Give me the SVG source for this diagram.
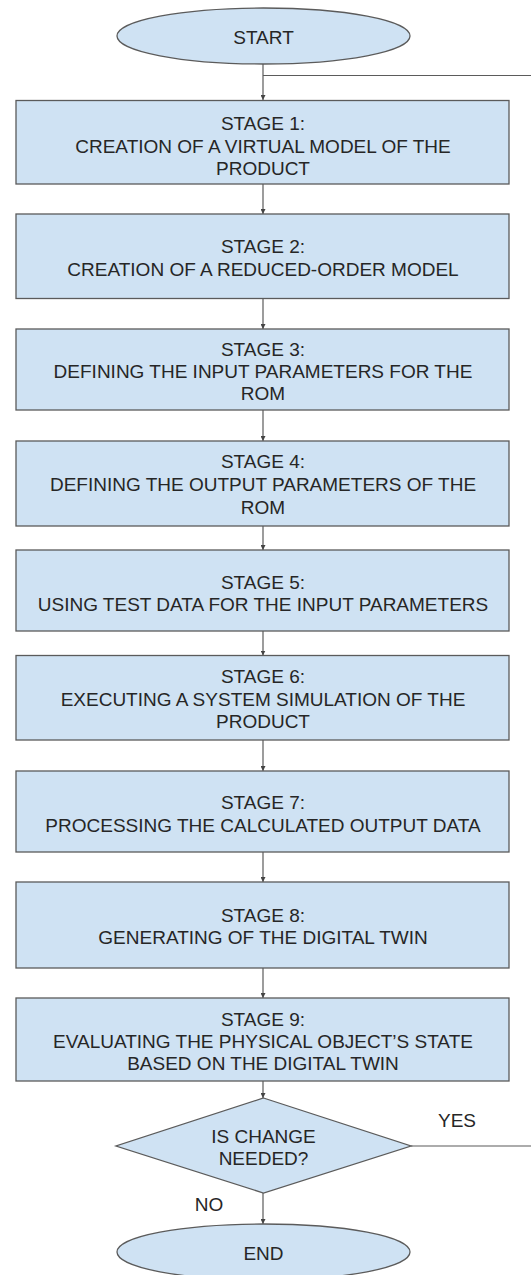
<svg xmlns="http://www.w3.org/2000/svg" width="531" height="1275" viewBox="0 0 531 1275">
<style>
.shape{fill:#cfe2f3;stroke:#5b5b5b;stroke-width:1.3}
.t{font-family:"Liberation Sans",Arial,sans-serif;font-size:19px;fill:#262626;text-anchor:middle}
.c{fill:none;stroke:#5b5b5b;stroke-width:1.2}
</style>
<defs>
<marker id="ah" viewBox="0 0 10 10" refX="10" refY="5" markerWidth="5" markerHeight="5" orient="auto" markerUnits="userSpaceOnUse">
<path d="M0,0 L10,5 L0,10 z" fill="#444"/>
</marker>
</defs>
<rect width="531" height="1275" fill="#ffffff"/>
<g id="connectors">
<line class="c" x1="263" y1="64" x2="263" y2="100" marker-end="url(#ah)"/>
<line class="c" x1="263" y1="75.5" x2="531" y2="75.5"/>
<line class="c" x1="263" y1="184" x2="263" y2="214" marker-end="url(#ah)"/>
<line class="c" x1="263" y1="298.5" x2="263" y2="329" marker-end="url(#ah)"/>
<line class="c" x1="263" y1="410" x2="263" y2="441" marker-end="url(#ah)"/>
<line class="c" x1="263" y1="526" x2="263" y2="550" marker-end="url(#ah)"/>
<line class="c" x1="263" y1="631" x2="263" y2="655.5" marker-end="url(#ah)"/>
<line class="c" x1="263" y1="740" x2="263" y2="771" marker-end="url(#ah)"/>
<line class="c" x1="263" y1="852" x2="263" y2="882" marker-end="url(#ah)"/>
<line class="c" x1="263" y1="968" x2="263" y2="998" marker-end="url(#ah)"/>
<line class="c" x1="263" y1="1081" x2="263" y2="1098" marker-end="url(#ah)"/>
<line class="c" x1="411" y1="1146" x2="531" y2="1146"/>
<line class="c" x1="263" y1="1193" x2="263" y2="1224" marker-end="url(#ah)"/>
<text class="t" x="457" y="1127">YES</text>
<text class="t" x="209" y="1211">NO</text>
</g>
<g id="start">
<ellipse class="shape" cx="263.5" cy="36" rx="146.5" ry="28"/>
<text class="t" x="263.5" y="43.5">START</text>
</g>
<g id="stage1">
<rect class="shape" x="16" y="100.5" width="493" height="83.5"/>
<text class="t" x="263" y="130">STAGE 1:</text>
<text class="t" x="263" y="152.5">CREATION OF A VIRTUAL MODEL OF THE</text>
<text class="t" x="263" y="174.5">PRODUCT</text>
</g>
<g id="stage2">
<rect class="shape" x="16" y="214" width="493" height="84.5"/>
<text class="t" x="263" y="253">STAGE 2:</text>
<text class="t" x="263" y="275.5">CREATION OF A REDUCED-ORDER MODEL</text>
</g>
<g id="stage3">
<rect class="shape" x="16" y="329" width="493" height="81"/>
<text class="t" x="263" y="355.5">STAGE 3:</text>
<text class="t" x="263" y="378">DEFINING THE INPUT PARAMETERS FOR THE</text>
<text class="t" x="263" y="400">ROM</text>
</g>
<g id="stage4">
<rect class="shape" x="16" y="441" width="493" height="85"/>
<text class="t" x="263" y="468">STAGE 4:</text>
<text class="t" x="263" y="491">DEFINING THE OUTPUT PARAMETERS OF THE</text>
<text class="t" x="263" y="513.5">ROM</text>
</g>
<g id="stage5">
<rect class="shape" x="16" y="550" width="493" height="81"/>
<text class="t" x="263" y="588.5">STAGE 5:</text>
<text class="t" x="263" y="610.5">USING TEST DATA FOR THE INPUT PARAMETERS</text>
</g>
<g id="stage6">
<rect class="shape" x="16" y="655.5" width="493" height="84.5"/>
<text class="t" x="263" y="683">STAGE 6:</text>
<text class="t" x="263" y="705.5">EXECUTING A SYSTEM SIMULATION OF THE</text>
<text class="t" x="263" y="728">PRODUCT</text>
</g>
<g id="stage7">
<rect class="shape" x="16" y="771" width="493" height="81"/>
<text class="t" x="263" y="809">STAGE 7:</text>
<text class="t" x="263" y="831.5">PROCESSING THE CALCULATED OUTPUT DATA</text>
</g>
<g id="stage8">
<rect class="shape" x="16" y="882" width="493" height="86"/>
<text class="t" x="263" y="922">STAGE 8:</text>
<text class="t" x="263" y="944">GENERATING OF THE DIGITAL TWIN</text>
</g>
<g id="stage9">
<rect class="shape" x="16" y="998" width="493" height="83"/>
<text class="t" x="263" y="1025.5">STAGE 9:</text>
<text class="t" x="263" y="1048">EVALUATING THE PHYSICAL OBJECT’S STATE</text>
<text class="t" x="263" y="1070">BASED ON THE DIGITAL TWIN</text>
</g>
<g id="decision">
<polygon class="shape" points="263.5,1098 411,1146 263.5,1193 116,1146"/>
<text class="t" x="263.5" y="1143">IS CHANGE</text>
<text class="t" x="263.5" y="1165">NEEDED?</text>
</g>
<g id="end">
<ellipse class="shape" cx="263.5" cy="1252" rx="146.5" ry="28"/>
<text class="t" x="263.5" y="1260">END</text>
</g>
</svg>
